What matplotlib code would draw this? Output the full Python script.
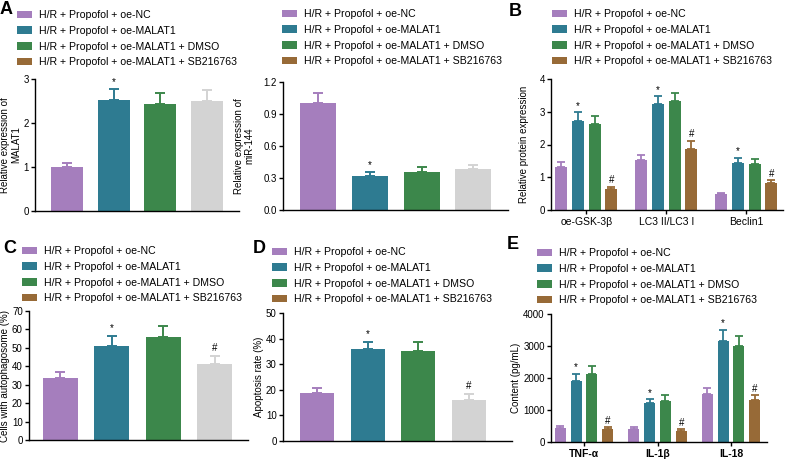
import numpy as np
import matplotlib
matplotlib.use("Agg")
import matplotlib.pyplot as plt
from matplotlib.patches import Patch

plt.rcParams['font.family'] = ['Liberation Sans', 'DejaVu Sans']

# groups / colours
groups = ['H/R + Propofol + oe-NC', 'H/R + Propofol + oe-MALAT1',
          'H/R + Propofol + oe-MALAT1 + DMSO', 'H/R + Propofol + oe-MALAT1 + SB216763']
colors = ['#A57EBD', '#2E7B91', '#3C874B', '#976A37']
gray = '#D3D3D3'

# panel A
malat1 = [1.00, 2.52, 2.44, 2.50]
malat1_err = [0.09, 0.25, 0.25, 0.24]
mir144 = [1.00, 0.32, 0.36, 0.38]
mir144_err = [0.10, 0.04, 0.04, 0.04]

# panel B
proteins = ['oe-GSK-3β', 'LC3 II/LC3 I', 'Beclin1']
prot_nc = [1.32, 1.53, 0.48]
prot_nc_err = [0.16, 0.15, 0.05]
prot_malat = [2.73, 3.23, 1.43]
prot_malat_err = [0.25, 0.24, 0.17]
prot_dmso = [2.62, 3.34, 1.40]
prot_dmso_err = [0.25, 0.23, 0.15]
prot_sb = [0.64, 1.87, 0.83]
prot_sb_err = [0.07, 0.25, 0.09]

# panel C / D
autophagosome = [33.5, 51.0, 56.0, 41.0]
autophagosome_err = [3.5, 5.5, 6.0, 4.5]
apoptosis = [18.6, 36.0, 35.2, 16.2]
apoptosis_err = [2.2, 2.8, 3.4, 2.2]

# panel E
cytokines = ['TNF-α', 'IL-1β', 'IL-18']
cyto_nc = [450, 420, 1510]
cyto_nc_err = [50, 50, 170]
cyto_malat = [1920, 1210, 3170]
cyto_malat_err = [210, 120, 340]
cyto_dmso = [2140, 1290, 3010]
cyto_dmso_err = [250, 170, 290]
cyto_sb = [420, 350, 1310]
cyto_sb_err = [50, 60, 150]

W, H = 787, 459
fig = plt.figure(figsize=(W / 100, H / 100), dpi=100)


def box(l, t, r, b):
    return [l / W, 1 - b / H, (r - l) / W, (b - t) / H]


def style(ax, ylim, yticks, ytl, ylabel, labx):
    for s in ['top', 'right']:
        ax.spines[s].set_visible(False)
    for s in ['left', 'bottom']:
        ax.spines[s].set_linewidth(1.0)
    ax.set_ylim(*ylim)
    ax.set_yticks(yticks)
    ax.set_yticklabels(ytl)
    ax.tick_params(axis='y', labelsize=7, length=3, width=1, pad=1.5)
    ax.set_ylabel(ylabel, fontsize=7, linespacing=1.1)
    ax.yaxis.set_label_coords(labx, 0.5)


def legend(x, y):
    handles = [Patch(facecolor=c, edgecolor='none') for c in colors]
    fig.legend(handles, groups, loc='upper left', bbox_to_anchor=(x / W, 1 - y / H),
               frameon=False, fontsize=7.6, borderpad=0, borderaxespad=0,
               handlelength=1.4, handleheight=0.7, handletextpad=0.7, labelspacing=0.55)


def single(rect, vals, errs, width, xlim, marks, dy):
    ax = fig.add_axes(box(*rect))
    x = np.arange(len(vals))
    cols = colors[:3] + [gray]
    ax.bar(x, vals, width, color=cols)
    for i in x:
        ax.errorbar(x[i], vals[i], yerr=[[0], [errs[i]]], fmt='none', ecolor=cols[i],
                    elinewidth=1.4, capsize=3.5, capthick=1.4)
        if marks[i]:
            ax.text(x[i], vals[i] + errs[i] + dy, marks[i], ha='center', va='bottom', fontsize=7)
    ax.set_xlim(*xlim)
    ax.set_xticks([])
    return ax


def grouped(rect, series, errs, cats, width, step, xlim, dy, bold):
    ax = fig.add_axes(box(*rect))
    x = np.arange(len(cats))
    for k, (vals, ee) in enumerate(zip(series, errs)):
        pos = x + (k - 1.5) * step
        ax.bar(pos, vals, width, color=colors[k])
        ax.errorbar(pos, vals, yerr=[np.zeros(len(vals)), ee], fmt='none', ecolor=colors[k],
                    elinewidth=1.3, capsize=2.8, capthick=1.3)
        mark = {1: '*', 3: '#'}.get(k)
        if mark:
            for p, v, e in zip(pos, vals, ee):
                ax.text(p, v + e + dy, mark, ha='center', va='bottom', fontsize=7)
    ax.set_xlim(*xlim)
    ax.set_xticks(x)
    ax.set_xticklabels(cats, fontsize=7.5, fontweight='bold' if bold else 'normal')
    ax.tick_params(axis='x', length=3, width=1, pad=2)
    return ax


# A left
ax = single((35, 79, 239, 211), malat1, malat1_err, 0.685, (-0.685, 3.68), ['', '*', '', ''], 0.05)
style(ax, (0, 3), [0, 1, 2, 3], ['0', '1', '2', '3'], 'Relative expression of\nMALAT1', -0.068)
legend(17, 10)

# A right
ax = single((283, 82, 508, 210), mir144, mir144_err, 0.70, (-0.68, 3.67), ['', '*', '', ''], 0.01)
style(ax, (0, 1.2), [0, 0.3, 0.6, 0.9, 1.2], ['0.0', '0.3', '0.6', '0.9', '1.2'],
      'Relative expression of\nmiR-144', -0.125)
legend(282, 9)

# B
ax = grouped((551, 79, 783, 210), [prot_nc, prot_malat, prot_dmso, prot_sb],
             [prot_nc_err, prot_malat_err, prot_dmso_err, prot_sb_err], proteins,
             0.15, 0.21, (-0.44, 2.46), 0.04, False)
style(ax, (0, 4), [0, 1, 2, 3, 4], ['0', '1', '2', '3', '4'], 'Relative protein expression', -0.096)
legend(552, 9)

# C
ax = single((29, 311, 248, 440), autophagosome, autophagosome_err, 0.68, (-0.61, 3.65),
            ['', '*', '', '#'], 1.5)
style(ax, (0, 70), range(0, 71, 10), [str(v) for v in range(0, 71, 10)],
      'Cells with autophagosome (%)', -0.087)
legend(22, 246)

# D
ax = single((283, 313, 512, 441), apoptosis, apoptosis_err, 0.67, (-0.67, 3.85),
            ['', '*', '', '#'], 1.0)
style(ax, (0, 50), range(0, 51, 10), [str(v) for v in range(0, 51, 10)],
      'Apoptosis rate (%)', -0.085)
legend(272, 247)

# E
ax = grouped((551, 314, 767, 442), [cyto_nc, cyto_malat, cyto_dmso, cyto_sb],
             [cyto_nc_err, cyto_malat_err, cyto_dmso_err, cyto_sb_err], cytokines,
             0.15, 0.215, (-0.45, 2.49), 40, True)
style(ax, (0, 4000), range(0, 4001, 1000), [str(v) for v in range(0, 4001, 1000)],
      'Content (pg/mL)', -0.14)
legend(537, 248)

# panel letters
for lab, x, y in [('A', 0, 1), ('B', 509, 3), ('C', 3, 240), ('D', 253, 240), ('E', 507, 236)]:
    fig.text(x / W, 1 - y / H, lab, fontsize=13, fontweight='bold', ha='left', va='top')

fig.savefig('out.png', dpi=100)
